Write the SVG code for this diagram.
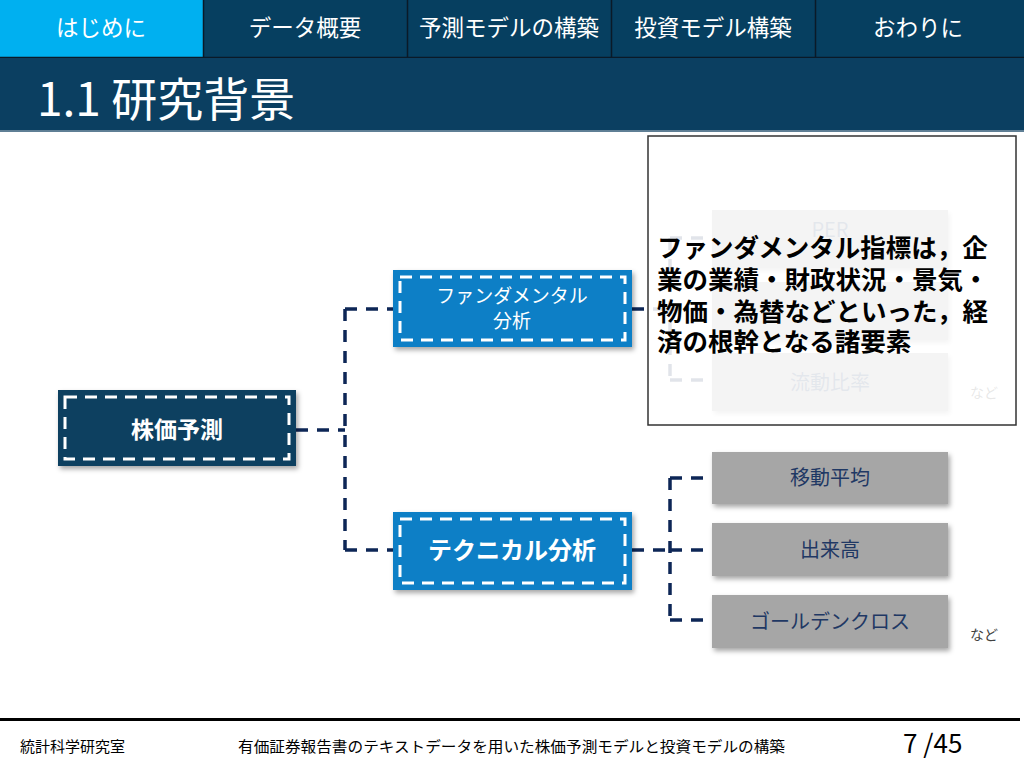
<svg xmlns="http://www.w3.org/2000/svg" width="1024" height="768" viewBox="0 0 1024 768">
<defs>
<filter id="sh" x="-10%" y="-10%" width="130%" height="140%">
<feDropShadow dx="2" dy="3" stdDeviation="2.5" flood-color="#000" flood-opacity="0.35"/>
</filter>
<style>
.jp{font-family:"Noto Sans CJK JP","Noto Sans",sans-serif}
.tab{fill:#ffffff;font-size:22.5px;text-anchor:middle}
.conn{fill:none;stroke:#0d2656;stroke-width:3.5;stroke-dasharray:12 9}
.inner{fill:none;stroke:#ffffff;stroke-width:3;stroke-dasharray:12 8}
.gray{fill:#a6a6a6}
.gtxt{fill:#1f3864;font-size:20px;text-anchor:middle}
.nado{fill:#404040;font-size:14px}
.foot{fill:#000;font-size:15px}
</style>
</defs>
<rect width="1024" height="768" fill="#ffffff"/>

<g id="nav">
<rect x="0" y="0" width="1024" height="58" fill="#063f60"/>
<rect x="0" y="0" width="203" height="57" fill="#00b0f0"/>
<g stroke="#0a1a28" stroke-width="1.5">
<line x1="203.5" y1="0" x2="203.5" y2="58"/>
<line x1="407.5" y1="0" x2="407.5" y2="58"/>
<line x1="611.5" y1="0" x2="611.5" y2="58"/>
<line x1="815.5" y1="0" x2="815.5" y2="58"/>
<line x1="0" y1="57.5" x2="1024" y2="57.5"/>
</g>
<text class="jp tab" x="101" y="36">はじめに</text>
<text class="jp tab" x="305" y="36">データ概要</text>
<text class="jp tab" x="509" y="36">予測モデルの構築</text>
<text class="jp tab" x="713" y="36">投資モデル構築</text>
<text class="jp tab" x="918" y="36">おわりに</text>
</g>

<g id="title">
<rect x="0" y="58" width="1024" height="73" fill="#0b3f61"/>
<rect x="0" y="130" width="1024" height="2" fill="#5f7f95"/>
<text class="jp" x="37" y="116" font-size="46" fill="#ffffff">1.1 研究背景</text>
</g>

<g id="connectors">
<path class="conn" d="M296 430 H345 M345 309 V550 M345 309 H393 M345 550 H393"/>
<path class="conn" d="M632 550 H670 M670 478 V620 M670 478 H712 M670 550 H712 M670 620 H712"/>
<path class="conn" d="M632 309 H670 M670 238 V380 M670 238 H712 M670 309 H712 M670 380 H712"/>
</g>

<g id="node-root">
<rect x="58" y="390" width="238" height="76" fill="#0c3f60" filter="url(#sh)"/>
<rect class="inner" x="65" y="397" width="224" height="62"/>
<text class="jp" x="177" y="438" font-size="23" font-weight="bold" fill="#ffffff" text-anchor="middle">株価予測</text>
</g>

<g id="node-fund">
<rect x="393" y="270" width="239" height="77" fill="#0b7fc6" filter="url(#sh)"/>
<rect class="inner" x="400" y="277" width="225" height="63"/>
<text class="jp" x="512" y="303" font-size="19" fill="#ffffff" text-anchor="middle">ファンダメンタル</text>
<text class="jp" x="512" y="328" font-size="19" fill="#ffffff" text-anchor="middle">分析</text>
</g>

<g id="node-tech">
<rect x="393" y="512" width="239" height="78" fill="#0b7fc6" filter="url(#sh)"/>
<rect class="inner" x="400" y="519" width="225" height="64"/>
<text class="jp" x="512" y="559" font-size="24" font-weight="bold" fill="#ffffff" text-anchor="middle">テクニカル分析</text>
</g>

<g id="node-ma">
<rect class="gray" x="712" y="452" width="236" height="52" filter="url(#sh)"/>
<text class="jp gtxt" x="830" y="485">移動平均</text>
</g>
<g id="node-vol">
<rect class="gray" x="712" y="523" width="236" height="53" filter="url(#sh)"/>
<text class="jp gtxt" x="830" y="557">出来高</text>
</g>
<g id="node-gc">
<rect class="gray" x="712" y="595" width="236" height="53" filter="url(#sh)"/>
<text class="jp gtxt" x="830" y="629">ゴールデンクロス</text>
</g>
<text class="jp nado" x="970" y="640">など</text>

<g id="node-per">
<rect class="gray" x="712" y="210" width="236" height="58" filter="url(#sh)"/>
<text class="jp gtxt" x="830" y="237" font-size="21">PER</text>
</g>
<g id="node-mid">
<rect class="gray" x="712" y="282" width="236" height="58" filter="url(#sh)"/>
</g>
<g id="node-ratio">
<rect class="gray" x="712" y="353" width="236" height="58" filter="url(#sh)"/>
<text class="jp gtxt" x="830" y="390" font-size="22">流動比率</text>
</g>
<text class="jp nado" x="970" y="398">など</text>

<g id="popup">
<rect x="648" y="136" width="368" height="289" fill="#ffffff" fill-opacity="0.88" stroke="#333333" stroke-width="1.5"/>
<g class="jp" font-size="25.5" font-weight="bold" fill="#000000">
<text x="657" y="257">ファンダメンタル指標は，企</text>
<text x="657" y="289">業の業績・財政状況・景気・</text>
<text x="657" y="321">物価・為替などといった，経</text>
<text x="657" y="351">済の根幹となる諸要素</text>
</g>
</g>

<g id="footer">
<rect x="0" y="718" width="1020" height="3" fill="#000000"/>
<text class="jp foot" x="20" y="752">統計科学研究室</text>
<text class="jp foot" x="238" y="752" textLength="547" lengthAdjust="spacingAndGlyphs">有価証券報告書のテキストデータを用いた株価予測モデルと投資モデルの構築</text>
<text class="jp" x="903" y="753" font-size="26" fill="#000000">7 /45</text>
</g>
</svg>
